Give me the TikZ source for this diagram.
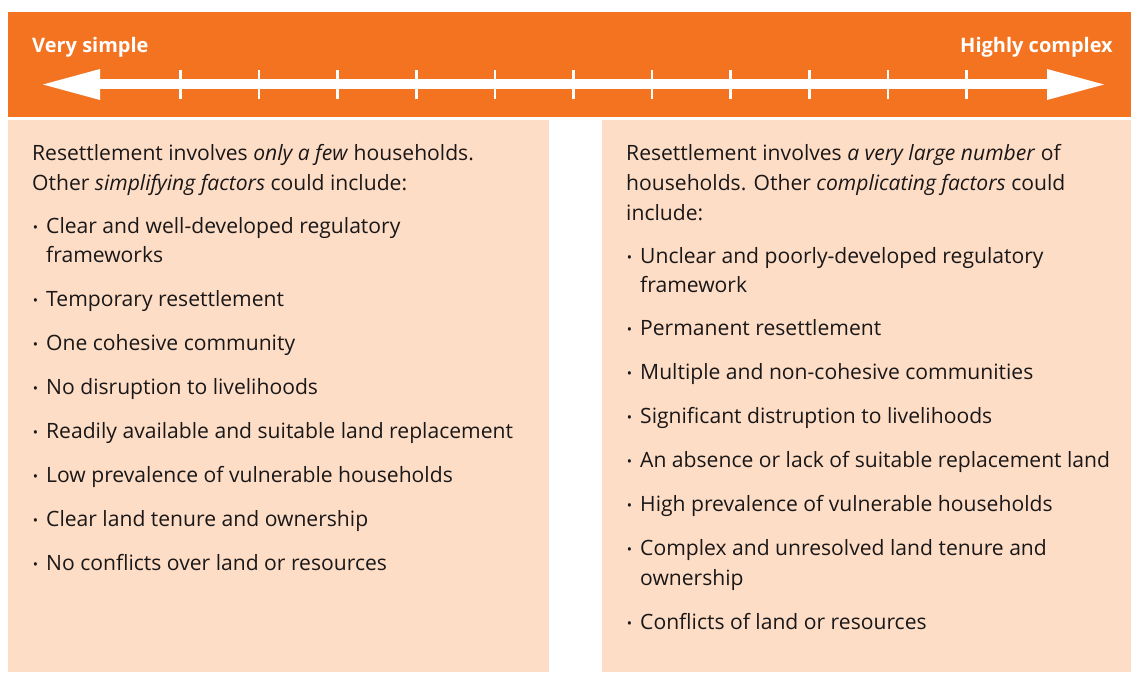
\documentclass[tikz,border=0pt]{standalone}
\usepackage{fontspec}
\setmainfont{Open Sans}
\definecolor{bandorange}{HTML}{F37321}
\definecolor{panelpeach}{HTML}{FDDDC6}
\definecolor{ink}{HTML}{1A1718}
\newcommand{\bodysize}{\fontsize{21.1}{29.5}\selectfont}
\newcommand{\itemdot}{\llap{\raisebox{0.5pt}{\fontsize{14}{14}\selectfont •}\hspace{8pt}}}
\begin{document}
\begin{tikzpicture}[x=1pt,y=-1pt,
  body/.style={anchor=base west, inner sep=0pt, text=ink, font=\bodysize},
  endlabel/.style={anchor=base, inner sep=0pt, text=white, font=\fontsize{20}{24}\selectfont\bfseries},
  tick/.style={draw=white, line width=2.6pt}]
\useasboundingbox (0,0) rectangle (1131,672);
\fill[white] (0,0) rectangle (1131,672);
% header band with the double-headed scale
\fill[bandorange] (8,12) rectangle (1131,117);
\node[endlabel, anchor=base west] (lo) at (32,52) {Very simple};
\node[endlabel, anchor=base east] (hi) at (1113,52) {Highly complex};
\coordinate (shaftL) at (99,84);
\coordinate (shaftR) at (1048,84);
\fill[white] ([yshift=-5pt]shaftL) rectangle ([yshift=5pt]shaftR);
\fill[white] (43,84.5) -- (100,69) -- (100,100) -- cycle;
\fill[white] (1104,84.5) -- (1047,69) -- (1047,100) -- cycle;
\foreach \k in {0,...,10} {
  \draw[tick] ({180.5+78.6*\k},70) -- ({180.5+78.6*\k},99);
}
% the two panels
\fill[panelpeach] (8,120) rectangle (549,672);
\fill[panelpeach] (602,120) rectangle (1131,672);
% left panel text
\node[body] (la) at (32,160) {Resettlement involves \textit{only a few} households.};
\node[body] (lb) at (32,190) {Other \textit{simplifying factors} could include:};
\node[body] (l1) at (46,233) {\itemdot Clear and well-developed regulatory};
\node[body] (l1b) at (46,262) {frameworks};
\node[body] (l2) at (46,306) {\itemdot Temporary resettlement};
\node[body] (l3) at (46,350) {\itemdot One cohesive community};
\node[body] (l4) at (46,394) {\itemdot No disruption to livelihoods};
\node[body] (l5) at (46,438) {\itemdot Readily available and suitable land replacement};
\node[body] (l6) at (46,482) {\itemdot Low prevalence of vulnerable households};
\node[body] (l7) at (46,526) {\itemdot Clear land tenure and ownership};
\node[body] (l8) at (46,570) {\itemdot No conflicts over land or resources};
% right panel text
\node[body] (ra) at (626,160) {Resettlement involves \textit{a very large number} of};
\node[body] (rb) at (626,190) {households. Other \textit{complicating factors} could};
\node[body] (rc) at (626,220) {include:};
\node[body] (r1) at (640,263) {\itemdot Unclear and poorly-developed regulatory};
\node[body] (r1b) at (640,292) {framework};
\node[body] (r2) at (640,335) {\itemdot Permanent resettlement};
\node[body] (r3) at (640,379) {\itemdot Multiple and non-cohesive communities};
\node[body] (r4) at (640,423) {\itemdot Significant distruption to livelihoods};
\node[body] (r5) at (640,467) {\itemdot An absence or lack of suitable replacement land};
\node[body] (r6) at (640,511) {\itemdot High prevalence of vulnerable households};
\node[body] (r7) at (640,555) {\itemdot Complex and unresolved land tenure and};
\node[body] (r7b) at (640,585) {ownership};
\node[body] (r8) at (640,629) {\itemdot Conflicts of land or resources};
\end{tikzpicture}
\end{document}
